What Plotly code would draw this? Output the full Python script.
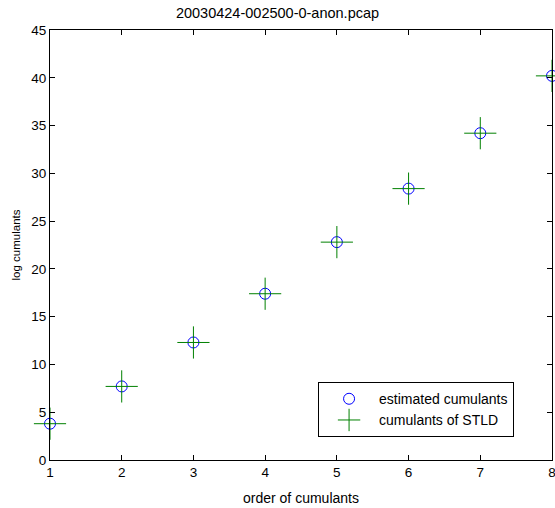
import plotly.graph_objects as go

orders = [1, 2, 3, 4, 5, 6, 7, 8]
estimated = [3.8, 7.7, 12.3, 17.4, 22.8, 28.4, 34.2, 40.2]
stld = [3.8, 7.7, 12.3, 17.4, 22.8, 28.4, 34.2, 40.2]
x_ticks = [1, 2, 3, 4, 5, 6, 7, 8]
y_ticks = [0, 5, 10, 15, 20, 25, 30, 35, 40, 45]

FONT = "Liberation Sans, Arial"

fig = go.Figure()
fig.add_trace(go.Scatter(
    x=orders, y=estimated, mode="markers", name="estimated cumulants",
    marker=dict(symbol="circle-open", size=11, color="#0000ff", line=dict(width=1)),
    cliponaxis=False,
))
fig.add_trace(go.Scatter(
    x=orders, y=stld, mode="markers", name="cumulants of STLD",
    marker=dict(symbol="cross-thin-open", size=23, color="#008000", line=dict(width=1, color="#008000")),
    cliponaxis=False,
))

axis_common = dict(
    showline=True, linecolor="black", linewidth=1, mirror="ticks",
    ticks="inside", ticklen=5, tickcolor="black", showgrid=False, zeroline=False,
    automargin=False, ticklabeloverflow="allow",
    tickfont=dict(family=FONT, size=13.5, color="black"),
)

fig.update_layout(
    width=555, height=508,
    margin=dict(l=50, r=3, t=30, b=48),
    plot_bgcolor="white", paper_bgcolor="white",
    title=dict(text="20030424-002500-0-anon.pcap", x=0.5, xref="container", y=1 - 13/508,
               yref="container", yanchor="middle", xanchor="center",
               font=dict(family=FONT, size=14.5, color="black"),
               automargin=False),
    xaxis=dict(range=[1, 8], tickvals=x_ticks,
               title=dict(text="order of cumulants", standoff=13,
                          font=dict(family=FONT, size=14, color="black")),
               **axis_common),
    yaxis=dict(range=[0, 45], tickvals=y_ticks,
               title=dict(text="log cumulants", standoff=8,
                          font=dict(family=FONT, size=11.5, color="black")),
               **axis_common),
    legend=dict(x=0.534, y=0.181, xanchor="left", yanchor="top",
                bordercolor="black", borderwidth=1, bgcolor="white",
                font=dict(family=FONT, size=14, color="black"),
                itemwidth=50),
    showlegend=True,
)

fig.write_html("out.html", config={"displayModeBar": False},
               post_script="document.body.style.margin='0';document.body.style.overflow='hidden';")
